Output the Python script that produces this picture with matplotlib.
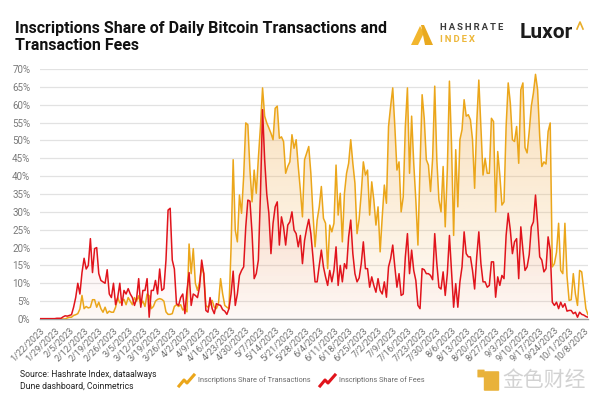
import numpy as np
import pandas as pd
import matplotlib
matplotlib.use("Agg")
import matplotlib.pyplot as plt
import matplotlib.dates as mdates
from matplotlib.colors import to_rgb
from matplotlib.lines import Line2D
from matplotlib.patches import Polygon, FancyBboxPatch

# daily values, starting 1/22/2023
START = "2023-01-22"

tx_share = [
    0, 0, 0, 0, 0, 0, 0, 0, 0, 0,
    0, 0, 0, 0.3, 0.5, 0.5, 1.0, 1.2, 1.5, 2.8,
    6.6, 2.9, 3.5, 3.1, 3.3, 5.4, 5.4, 3.3, 4.7, 2.9,
    1.9, 3.3, 1.6, 2.2, 1.9, 1.9, 3.3, 6.0, 4.5, 5.0,
    5.5, 4.0, 6.0, 5.0, 4.0, 6.0, 5.0, 6.5, 4.0, 5.0,
    3.5, 7.0, 6.5, 2.9, 3.5, 5.0, 5.5, 5.7, 5.5, 5.0,
    2.0, 1.3, 1.3, 1.5, 3.5, 4.0, 3.5, 4.0, 2.5, 3.0,
    2.0, 21.0, 12.7, 19.7, 10.0, 8.0, 10.4, 14.6, 12.7, 3.8,
    3.3, 4.0, 5.2, 3.3, 2.9, 4.3, 11.3, 7.0, 3.8, 3.3,
    2.9, 20.0, 44.6, 24.9, 21.6, 34.7, 29.6, 39.9, 54.9, 54.4,
    41.7, 32.8, 41.7, 35.2, 45.0, 53.9, 64.7, 56.8, 54.9, 53.5,
    52.0, 50.2, 59.0, 59.6, 50.6, 51.0, 49.7, 40.8, 42.7, 44.0,
    51.6, 47.8, 50.2, 42.7, 36.1, 28.6, 44.6, 46.5, 48.3, 40.8,
    29.6, 20.2, 27.7, 31.4, 37.1, 28.2, 26.8, 14.1, 26.3, 24.4,
    26.8, 43.1, 29.1, 35.2, 21.6, 35.2, 40.8, 43.6, 50.2, 43.6,
    38.0, 23.9, 28.0, 35.2, 44.0, 40.3, 41.7, 29.1, 38.4, 33.3,
    26.3, 31.4, 18.8, 28.6, 37.5, 32.4, 53.9, 59.6, 64.7, 53.9,
    41.7, 44.0, 30.0, 34.2, 53.9, 64.7, 40.8, 56.8, 43.6, 33.3,
    20.7, 42.7, 62.8, 56.2, 44.6, 43.1, 35.7, 45.0, 65.2, 44.6,
    33.3, 30.0, 42.7, 25.8, 41.7, 66.6, 48.8, 23.4, 47.4, 31.4,
    50.2, 53.0, 61.4, 56.8, 57.2, 55.8, 50.2, 36.6, 54.9, 66.9,
    53.9, 40.3, 45.0, 40.8, 40.8, 56.2, 55.3, 30.0, 46.9, 40.3,
    31.9, 32.8, 53.9, 66.1, 60.5, 50.2, 49.7, 53.9, 43.6, 64.2,
    66.1, 48.0, 46.5, 52.5, 59.6, 63.3, 68.5, 64.2, 51.1, 42.7,
    44.0, 43.4, 52.5, 54.9, 14.6, 15.5, 18.7, 26.8, 13.6, 12.7,
    26.8, 12.0, 5.2, 5.4, 12.7, 7.0, 3.8, 13.6, 13.2, 8.0,
    2.9, 1.2,
]

fee_share = [
    0.1, 0.1, 0.1, 0.1, 0.1, 0.1, 0.1, 0.1, 0.2, 0.2,
    0.2, 0.6, 0.9, 0.8, 1.0, 1.2, 3.3, 6.0, 10.0, 7.0,
    13.0, 17.0, 14.0, 15.0, 22.5, 13.0, 19.7, 20.0, 12.7, 10.8,
    10.4, 10.0, 13.8, 7.0, 6.0, 10.0, 4.0, 6.0, 10.0, 3.8,
    8.0, 7.0, 8.5, 7.0, 6.0, 3.8, 5.7, 11.3, 3.3, 8.0,
    8.0, 11.3, 0.5, 8.0, 8.0, 10.8, 7.0, 14.0, 8.0, 8.5,
    16.5, 30.5, 31.0, 16.5, 14.0, 4.3, 3.8, 6.0, 7.0, 1.5,
    8.0, 13.0, 3.8, 7.0, 6.6, 6.0, 9.0, 16.5, 12.7, 2.4,
    1.9, 6.0, 2.9, 1.5, 4.3, 4.0, 3.8, 2.6, 2.2, 1.3,
    2.9, 7.0, 13.4, 3.8, 7.0, 12.2, 13.6, 14.6, 25.8, 33.3,
    33.0, 24.0, 11.3, 12.7, 16.5, 35.0, 58.6, 44.6, 35.0, 29.6,
    18.3, 26.8, 31.4, 32.8, 20.7, 28.6, 25.8, 20.7, 26.3, 27.2,
    30.0, 24.9, 23.9, 20.2, 23.4, 15.5, 22.0, 25.3, 27.9, 23.9,
    17.4, 10.4, 10.4, 15.0, 19.3, 14.6, 11.8, 9.4, 13.6, 10.4,
    13.6, 20.2, 9.4, 15.0, 10.4, 15.5, 14.1, 23.0, 27.7, 18.3,
    12.7, 10.4, 11.5, 15.5, 21.6, 14.1, 14.1, 8.9, 11.8, 9.4,
    7.5, 11.3, 8.0, 7.0, 10.4, 6.1, 14.6, 16.9, 20.7, 14.6,
    8.9, 12.7, 6.6, 7.0, 17.4, 23.9, 12.7, 19.3, 13.6, 10.8,
    3.8, 2.9, 14.1, 13.8, 12.7, 12.7, 12.2, 11.0, 23.9, 15.5,
    8.9, 8.4, 13.2, 6.6, 12.7, 23.4, 13.6, 3.3, 9.9, 3.3,
    10.4, 14.6, 24.4, 18.3, 17.4, 17.4, 13.6, 8.4, 17.4, 24.4,
    15.5, 10.4, 10.4, 8.9, 9.4, 16.0, 16.0, 6.1, 11.8, 9.4,
    12.2, 11.3, 23.4, 29.6, 24.9, 18.3, 21.6, 22.5, 11.3, 25.8,
    19.3, 13.6, 14.6, 18.0, 25.8, 27.2, 34.7, 26.8, 17.4, 16.5,
    13.2, 14.1, 23.0, 19.3, 4.7, 3.8, 4.7, 2.9, 4.7, 3.3,
    4.3, 2.2, 2.4, 2.4, 1.5, 1.9, 0.5, 1.9, 1.3, 1.1,
    0.7, 0.5,
]

y_ticks = [0, 5, 10, 15, 20, 25, 30, 35, 40, 45, 50, 55, 60, 65, 70]

ORANGE = "#EBA61A"
RED = "#E1141C"
W, H = 600, 393

plt.rcParams["font.family"] = ["Roboto", "DejaVu Sans"]

dates = pd.date_range(START, periods=len(tx_share), freq="D")
tick_dates = dates[::7]
tick_labels = [f"{d.month}/{d.day}/{d.year}" for d in tick_dates]


def fx(px):
    return px / W


def fy(py):
    return 1 - py / H


def gradient_fill(ax, x, y, color, a_bottom, a_top, z):
    """Fill under a line with a vertical alpha gradient."""
    coll = ax.fill_between(x, 0, y, facecolor="none", edgecolor="none")
    grad = np.zeros((256, 1, 4))
    grad[:, :, :3] = to_rgb(color)
    grad[:, 0, 3] = np.linspace(a_bottom, a_top, 256)
    x0, x1 = mdates.date2num(x[0]), mdates.date2num(x[-1])
    im = ax.imshow(grad, aspect="auto", origin="lower", extent=[x0, x1, 0, 70],
                   zorder=z, interpolation="bilinear")
    im.set_clip_path(coll.get_paths()[0], transform=ax.transData)


fig = plt.figure(figsize=(6, 3.93), dpi=100)
ax = fig.add_axes([fx(40), fy(319), fx(588) - fx(40), fy(69) - fy(319)])

gradient_fill(ax, dates, tx_share, "#F2B560", 0.04, 0.45, 1)
gradient_fill(ax, dates, fee_share, "#E86A6A", 0.02, 0.25, 2)
ax.plot(dates, tx_share, color=ORANGE, lw=1.1, zorder=4)
ax.plot(dates, fee_share, color=RED, lw=1.1, zorder=5)

ax.set_xlim(dates[0], dates[-1])
ax.set_ylim(0, 70)
ax.set_yticks(y_ticks)
ax.set_yticklabels([f"{v}%" for v in y_ticks], fontsize=7, color="#7a7a7a")
ax.set_xticks(tick_dates)
ax.set_xticklabels(tick_labels, rotation=45, ha="right", rotation_mode="anchor",
                   fontsize=6.6, color="#707070")
ax.tick_params(axis="both", length=0)
ax.tick_params(axis="y", pad=7)
ax.tick_params(axis="x", pad=5)
ax.yaxis.grid(True, color="#e2e2e2", lw=0.9)
ax.set_axisbelow(True)
for side in ["top", "right", "left"]:
    ax.spines[side].set_visible(False)
ax.spines["bottom"].set_color("#9c9c9c")
ax.spines["bottom"].set_linewidth(1.0)

# title
fig.text(fx(15), fy(37), "Inscriptions Share of Daily Bitcoin Transactions and\nTransaction Fees",
         fontsize=11.5, fontweight="bold", color="#111111", va="center", linespacing=1.2)

# Hashrate Index logo
fig.add_artist(Polygon([(fx(411), fy(45)), (fx(418), fy(45)), (fx(424), fy(33)), (fx(420), fy(26))],
                       closed=True, facecolor="#F2B62E", edgecolor="none"))
fig.add_artist(Polygon([(fx(421), fy(25)), (fx(424), fy(25)), (fx(433), fy(45)), (fx(425), fy(45))],
                       closed=True, facecolor="#E9A91F", edgecolor="none"))
fig.text(fx(440), fy(27), "\u2009".join("HASHRATE"), fontsize=6.8, fontweight="bold",
         color="#3a3a3a", va="center")
fig.text(fx(440), fy(40), "\u2009".join("INDEX"), fontsize=6.8, fontweight="bold",
         color="#EDB73A", va="center")

# Luxor logo
fig.text(fx(520), fy(33), "Luxor", fontsize=15, fontweight="bold", color="#1b1b1b", va="center")
fig.add_artist(Line2D([fx(577), fx(580), fx(583)], [fy(29), fy(22), fy(29)], color="#E9AE2C", lw=1.2))

# footer
fig.text(fx(20), fy(380.5), "Source: Hashrate Index, dataalways\nDune dashboard, Coinmetrics",
         fontsize=6.2, color="#222222", va="center", linespacing=1.35)

for x0, col, label in [(179, ORANGE, "Inscriptions Share of Transactions"),
                       (320, RED, "Inscriptions Share of Fees")]:
    fig.add_artist(Line2D([fx(x0), fx(x0 + 5), fx(x0 + 8), fx(x0 + 15)],
                          [fy(386), fy(380), fy(383), fy(375)], color=col, lw=2.2))
    fig.text(fx(x0 + 19), fy(380), label, fontsize=5.3, color="#6a6a6a", va="center")

# watermark
fig.add_artist(FancyBboxPatch((fx(485), fy(390)), fx(13), fy(372) - fy(390),
                              boxstyle="round,pad=0.002", facecolor="#E9B23A", edgecolor="none"))
fig.add_artist(FancyBboxPatch((fx(478), fy(377)), fx(6), fy(370) - fy(377),
                              boxstyle="round,pad=0.001", facecolor="#E9B23A", edgecolor="none"))
fig.text(fx(502), fy(380), "金色财经", fontsize=15, color="#d2d2d2", va="center",
         family=["Noto Sans CJK SC", "DejaVu Sans"])

fig.savefig("out.png", dpi=100)
